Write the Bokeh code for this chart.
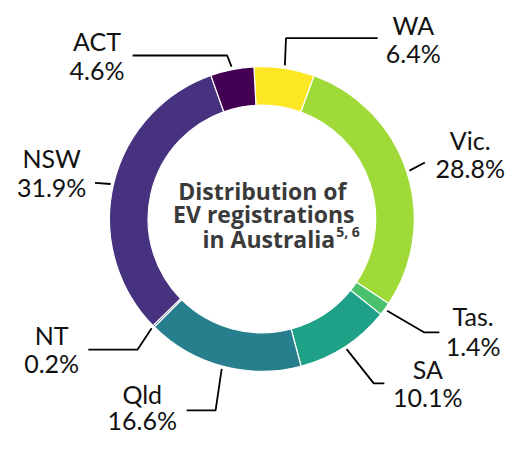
import math
from bokeh.plotting import figure
from bokeh.models import Range1d, ColumnDataSource
from bokeh.core.properties import value
from bokeh.embed import file_html
from bokeh.resources import INLINE

# ---- data (clockwise from top) ----
states = ["WA", "Vic.", "Tas.", "SA", "Qld", "NT", "NSW", "ACT"]
shares = [6.4, 28.8, 1.4, 10.1, 16.6, 0.2, 31.9, 4.6]
colors = ["#FDE725", "#A0DA39", "#4AC16D", "#1FA187", "#277F8E", "#365C8D", "#46327E", "#440154"]
title_lines = ["Distribution of", "EV registrations", "in Australia"]
title_sup = "5, 6"

# ---- layout (reference pixel coordinates, scaled to fit) ----
W, H = 509, 435
S = H / 451.0
def X(px): return px * S
def Y(py): return H - py * S

CX, CY = X(271), Y(226.5)
R_OUT, R_IN = 158 * S, 118 * S
START = math.radians(93)

# label positions: (center x, name y, pct y, leader path after start point)
label_pos = {
    "WA":   (428, 25, 54,  [(296, 39), (391, 39)]),
    "Vic.": (487, 145, 174, [(440, 168)]),
    "Tas.": (490, 327, 358, [(439, 344), (455, 344)]),
    "SA":   (443, 382, 411, [(387, 397), (398, 397)]),
    "Qld":  (147, 408, 435, [(223, 425), (193, 425)]),
    "NT":   (53, 347, 376, [(142, 362), (91, 362)]),
    "NSW":  (53, 163, 193, [(98, 189)]),
    "ACT":  (100, 42, 72, [(235, 57), (137, 57)]),
}

total = sum(shares)
starts, ends, mids = [], [], []
cum = 0.0
for s in shares:
    a0 = START - 2 * math.pi * cum / total
    cum += s
    a1 = START - 2 * math.pi * cum / total
    starts.append(a0)
    ends.append(a1)
    mids.append((a0 + a1) / 2)

src = ColumnDataSource(dict(start=starts, end=ends, color=colors))

p = figure(width=W, height=H, x_range=Range1d(0, W), y_range=Range1d(0, H),
           output_backend="svg", toolbar_location=None,
           x_axis_location=None, y_axis_location=None,
           min_border=0, min_border_left=0, min_border_right=0,
           min_border_top=0, min_border_bottom=0)
p.grid.visible = False
p.outline_line_color = None
p.background_fill_color = "white"

p.annular_wedge(x=CX, y=CY, inner_radius=R_IN, outer_radius=R_OUT,
                start_angle="start", end_angle="end", direction="clock",
                fill_color="color", line_color="white", line_width=1.2, source=src)

xs, ys = [], []
nx, ny, ntxt, px_, py_, ptxt = [], [], [], [], [], []
for st, sh, m in zip(states, shares, mids):
    lx, ly_name, ly_pct, path = label_pos[st]
    r0 = 161 * S
    pts_x = [CX + r0 * math.cos(m)] + [X(a) for a, b in path]
    pts_y = [CY + r0 * math.sin(m)] + [Y(b) for a, b in path]
    xs.append(pts_x)
    ys.append(pts_y)
    nx.append(X(lx)); ny.append(Y(ly_name)); ntxt.append(st)
    px_.append(X(lx)); py_.append(Y(ly_pct)); ptxt.append(f"{sh:.1f}%")

p.multi_line(xs=xs, ys=ys, line_color="black", line_width=1.8)

FONT = value("Lato")
p.text(x=nx, y=ny, text=ntxt, text_font=FONT, text_font_size="25px",
       text_align="center", text_baseline="middle", text_color="#111111")
p.text(x=px_, y=py_, text=ptxt, text_font=FONT, text_font_size="25px",
       text_align="center", text_baseline="middle", text_color="#111111")

# title
TFONT = value("Open Sans")
p.text(x=[X(271.5), X(273)], y=[Y(197), Y(221)], text=title_lines[:2], text_font=TFONT,
       text_font_size="23px", text_font_style="bold", text_align="center",
       text_baseline="middle", text_color="#3a3a3a")
p.text(x=[X(347)], y=[Y(247)], text=[title_lines[2]], text_font=TFONT,
       text_font_size="23px", text_font_style="bold", text_align="right",
       text_baseline="middle", text_color="#3a3a3a")
p.text(x=[X(348)], y=[Y(240)], text=[title_sup], text_font=TFONT,
       text_font_size="14px", text_font_style="bold", text_align="left",
       text_baseline="middle", text_color="#3a3a3a")

open("out.html", "w").write(file_html(p, INLINE))
